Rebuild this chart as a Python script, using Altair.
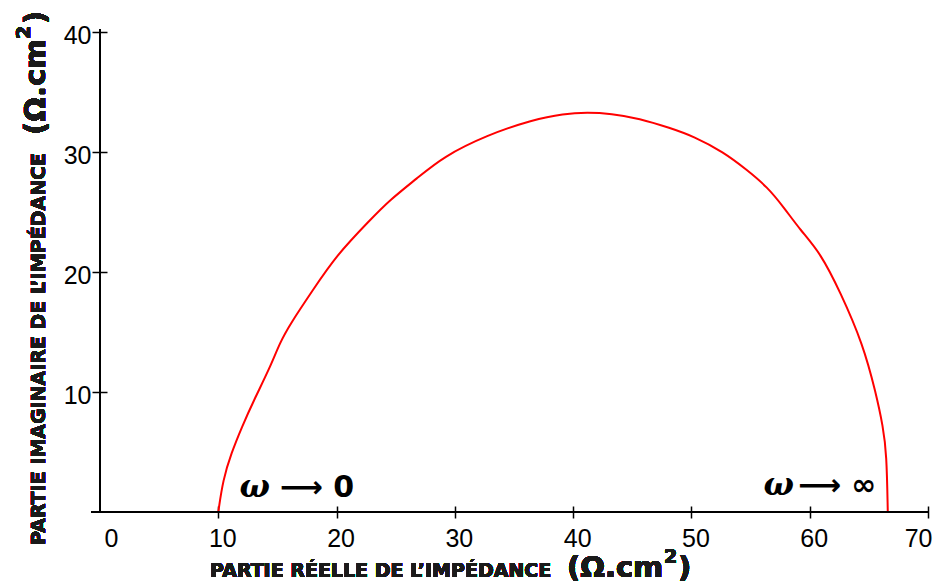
import altair as alt
import pandas as pd

# Nyquist arc: real part vs imaginary part of the impedance (Ω.cm²)
z_real = [10.0, 10.4, 11.1, 12.0, 13.0, 14.4, 15.2, 16.1, 18.0, 20.0, 22.8, 24.5,
          26.8, 29.0, 32.7, 36.6, 39.2, 41.2, 43.2, 45.6, 48.2, 50.2, 52.7, 54.7,
          56.4, 57.8, 59.2, 60.9, 62.6, 64.5, 65.6, 66.2, 66.5, 66.6]
z_imag = [0.0, 2.7, 4.9, 7.1, 9.3, 12.1, 14.1, 15.7, 18.5, 21.4, 24.3, 26.0,
          27.8, 29.6, 31.4, 32.7, 33.2, 33.3, 33.2, 32.8, 32.0, 31.3, 30.0, 28.5,
          27.1, 25.4, 23.5, 21.6, 18.3, 14.0, 9.9, 7.1, 4.9, 0.0]

x_ticks = [0, 10, 20, 30, 40, 50, 60, 70]
y_ticks = [10, 20, 30, 40]

# frequency limits marked at both ends of the arc: ω, then the arrow and the limit
note_limit = ["⟶ 0", "⟶ ∞"]
note_omega_x = [11.8, 56.1]
note_arrow_x = [15.2, 59.0]
note_y = [1.25, 1.4]

W, H = 828, 480
TICK_FONT = "Liberation Sans, Arial, sans-serif"
TITLE_FONT = "DejaVu Sans, Verdana, sans-serif"

curve = pd.DataFrame({"re": z_real, "im": z_imag, "k": range(len(z_real))})
notes = pd.DataFrame({"limit": note_limit, "re_w": note_omega_x,
                      "re_a": note_arrow_x, "im": note_y})

x_scale = alt.Scale(domain=[0, 70], nice=False, zero=False)
y_scale = alt.Scale(domain=[0, 40], nice=False, zero=False)

x_axis = alt.Axis(values=x_ticks, domain=False, grid=False, title=None,
                  offset=-6, tickSize=12, tickWidth=1.5, tickColor="black",
                  tickOpacity={"condition": {"test": "datum.value == 0", "value": 0}, "value": 1},
                  labelFont=TICK_FONT, labelFontSize=25, labelColor="black",
                  labelPadding=8, labelOffset=4)
y_axis = alt.Axis(values=y_ticks, domain=False, grid=False, title=None,
                  offset=-7, tickSize=15, tickWidth=1.5, tickColor="black",
                  labelFont=TICK_FONT, labelFontSize=25, labelColor="black",
                  labelPadding=1, labelOffset=3)

arc = alt.Chart(curve).mark_line(color="#ff0000", strokeWidth=2, interpolate="basis").encode(
    x=alt.X("re:Q", scale=x_scale, axis=x_axis),
    y=alt.Y("im:Q", scale=y_scale, axis=y_axis),
    order="k:Q",
)

# axis lines crossing at the origin
x_line = alt.Chart(curve).mark_rule(color="black", strokeWidth=1.8).encode(
    x=alt.value(-9), x2=alt.value(W), y=alt.value(H))
y_line = alt.Chart(curve).mark_rule(color="black", strokeWidth=1.8).encode(
    x=alt.value(0), y=alt.value(-3), y2=alt.value(H))

omega = alt.Chart(notes).mark_text(
    text="ω", font="DejaVu Serif", fontSize=32, fontWeight="bold", fontStyle="italic",
    color="black", align="left", baseline="alphabetic").encode(
    x=alt.X("re_w:Q", scale=x_scale), y=alt.Y("im:Q", scale=y_scale))
limits = alt.Chart(notes).mark_text(
    font="DejaVu Sans", fontSize=30, fontWeight="bold", color="black",
    align="left", baseline="alphabetic").encode(
    x=alt.X("re_a:Q", scale=x_scale), y=alt.Y("im:Q", scale=y_scale), text="limit:N")

def title_text(text, x, y, size, angle=0):
    return alt.Chart(curve).mark_text(
        text=text, font=TITLE_FONT, fontSize=size, fontWeight="bold",
        color="#1a1a1a", align="left", baseline="alphabetic", angle=angle,
    ).encode(x=alt.value(x), y=alt.value(y))

x_title = title_text("PARTIE RÉELLE DE L’IMPÉDANCE", 110, 545, 19)
x_unit = title_text("(Ω.cm", 467, 545, 29)
x_sup = title_text("2", 564, 531, 19)
x_close = title_text(")", 578, 545, 29)
y_title = title_text("PARTIE IMAGINAIRE DE L’IMPÉDANCE", -55, 513, 19, angle=270)
y_unit = title_text("(Ω.cm", -55, 103, 29, angle=270)
y_sup = title_text("2", -70, 7, 19, angle=270)
y_close = title_text(")", -55, -8, 29, angle=270)

chart = alt.layer(arc, x_line, y_line, omega, limits,
                  x_title, x_unit, x_sup, x_close,
                  y_title, y_unit, y_sup, y_close).properties(
    width=W, height=H,
    background="white",
    autosize=alt.AutoSizeParams(type="none"),
    padding={"left": 100, "top": 32, "right": 16, "bottom": 75},
).configure_view(strokeWidth=0, stroke="transparent")

chart.save("out.html", embed_options={"renderer": "svg", "actions": False})
